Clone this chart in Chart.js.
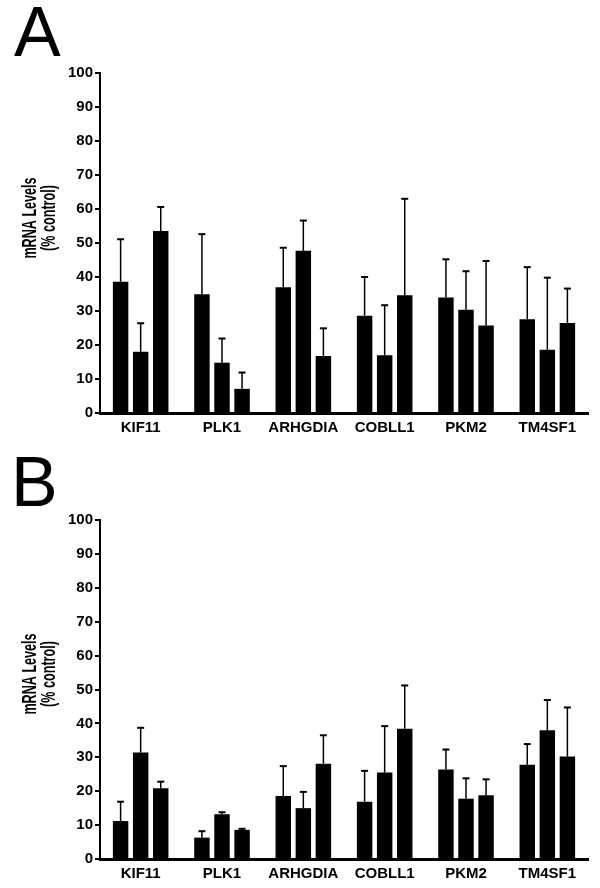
<!DOCTYPE html>
<html>
<head>
<meta charset="utf-8">
<title>mRNA Levels (% control)</title>
<script src="https://cdn.jsdelivr.net/npm/chart.js@4"></script>
<style>
    html, body {
        margin: 0;
        padding: 0;
        background: #fff;
    }
    .panel {
        position: absolute;
        left: 0;
        width: 600px;
        height: 444px;
    }
    .panel-letter {
        position: absolute;
        font-family: 'Liberation Sans', Arial, sans-serif;
        font-size: 70px;
        line-height: 70px;
        color: #000;
        z-index: 2;
    }
</style>
</head>
<body>
<div class="panel" style="top:0">
    <canvas id="chartA" width="600" height="444"></canvas>
</div>
<div class="panel" style="top:444px">
    <canvas id="chartB" width="600" height="444"></canvas>
</div>
<div class="panel-letter" style="left:14px; top:-3px">A</div>
<div class="panel-letter" style="left:11px; top:447px">B</div>

<script>
// Genes on the x axis
const genes = ['KIF11', 'PLK1', 'ARHGDIA', 'COBLL1', 'PKM2', 'TM4SF1'];
const yTicks = [0, 10, 20, 30, 40, 50, 60, 70, 80, 90, 100];
const yTitle = ['mRNA Levels', '(% control)'];

// Panel A: mean values and error (upper half only)
const a1 = [38.6, 34.9, 37.0, 28.6, 34.0, 27.6];
const a2 = [18.0, 14.8, 47.7, 17.0, 30.4, 18.6];
const a3 = [53.5, 7.1, 16.8, 34.6, 25.7, 26.5];
const a1Err = [12.5, 17.7, 11.6, 11.4, 11.2, 15.3];
const a2Err = [8.4, 7.1, 8.9, 14.7, 11.3, 21.2];
const a3Err = [7.1, 4.8, 8.1, 28.4, 19.0, 10.1];

// Panel B
const b1 = [11.2, 6.3, 18.6, 16.9, 26.4, 27.8];
const b2 = [31.4, 13.2, 15.0, 25.5, 17.8, 38.0];
const b3 = [20.9, 8.6, 28.1, 38.4, 18.8, 30.2];
const b1Err = [5.7, 1.9, 8.8, 9.1, 5.9, 6.1];
const b2Err = [7.3, 0.6, 4.8, 13.7, 6.0, 8.9];
const b3Err = [1.9, 0.3, 8.4, 12.8, 4.7, 14.5];

const FONT = "'Liberation Sans', Arial, sans-serif";

/**
 * Draws the upward error bars on top of every bar
 */
const errorBarPlugin = {
    id: 'errorBars',
    afterDatasetsDraw(chart) {
        const ctx = chart.ctx;
        const yScale = chart.scales.y;
        ctx.save();
        ctx.strokeStyle = '#000';
        chart.data.datasets.forEach((ds, i) => {
            const meta = chart.getDatasetMeta(i);
            meta.data.forEach((bar, j) => {
                const top = yScale.getPixelForValue(ds.data[j] + ds.errors[j]);
                ctx.lineWidth = 1.5;
                ctx.beginPath();
                ctx.moveTo(bar.x, bar.y);
                ctx.lineTo(bar.x, top);
                ctx.stroke();
                ctx.lineWidth = 2;
                ctx.beginPath();
                ctx.moveTo(bar.x - 3.5, top);
                ctx.lineTo(bar.x + 3.5, top);
                ctx.stroke();
            });
        });
        ctx.restore();
    }
};

/**
 * Draws the condensed, rotated y axis title
 */
const yTitlePlugin = {
    id: 'yTitle',
    afterDraw(chart, args, opts) {
        const ctx = chart.ctx;
        ctx.save();
        ctx.fillStyle = '#000';
        ctx.font = 'bold 20px ' + FONT;
        ctx.textAlign = 'center';
        ctx.textBaseline = 'alphabetic';
        opts.text.forEach((line, k) => {
            ctx.save();
            ctx.translate(opts.x[k], opts.centerY);
            ctx.rotate(-Math.PI / 2);
            ctx.scale(0.63, 1);
            ctx.fillText(line, 0, 0);
            ctx.restore();
        });
        ctx.restore();
    }
};

/**
 * Creates one panel
 */
function buildPanel(canvasId, series, errors, layout) {
    const datasets = series.map((values, i) => ({
        label: 'Series ' + (i + 1),
        data: values,
        errors: errors[i],
        backgroundColor: '#000',
        borderWidth: 0,
        categoryPercentage: 0.74,
        barPercentage: 0.77
    }));

    return new Chart(document.getElementById(canvasId), {
        type: 'bar',
        data: {
            labels: genes,
            datasets: datasets
        },
        plugins: [errorBarPlugin, yTitlePlugin],
        options: {
            responsive: false,
            animation: false,
            layout: {
                padding: { top: layout.top, right: 12, bottom: 0, left: 0 }
            },
            scales: {
                x: {
                    afterFit: scale => { scale.height = layout.xHeight; },
                    grid: { display: false, drawTicks: false },
                    border: { display: true, color: '#000', width: 3 },
                    ticks: {
                        padding: 6,
                        color: '#000',
                        font: { family: FONT, size: 15, weight: 'bold' }
                    }
                },
                y: {
                    min: 0,
                    max: 100,
                    afterFit: scale => { scale.width = 100; },
                    afterBuildTicks: scale => {
                        scale.ticks = yTicks.map(v => ({ value: v }));
                    },
                    grid: {
                        drawOnChartArea: false,
                        drawTicks: true,
                        tickLength: 5,
                        color: '#000',
                        lineWidth: 2
                    },
                    border: { display: true, color: '#000', width: 2 },
                    ticks: {
                        padding: 2,
                        color: '#000',
                        font: { family: FONT, size: 15, weight: 'bold' }
                    }
                }
            },
            plugins: {
                legend: { display: false },
                tooltip: { enabled: false },
                yTitle: {
                    text: yTitle,
                    x: [36, 55],
                    centerY: layout.titleY
                }
            }
        }
    });
}

buildPanel('chartA', [a1, a2, a3], [a1Err, a2Err, a3Err], { top: 73, xHeight: 31, titleY: 218 });
buildPanel('chartB', [b1, b2, b3], [b1Err, b2Err, b3Err], { top: 76, xHeight: 29, titleY: 230 });
</script>
</body>
</html>
